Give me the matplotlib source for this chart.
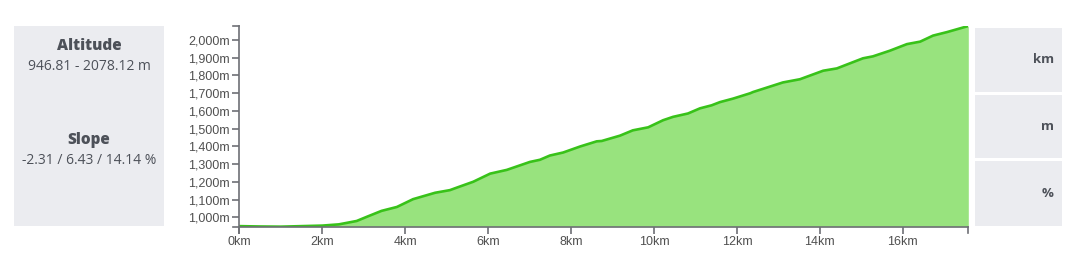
import matplotlib
matplotlib.use("Agg")
import matplotlib.pyplot as plt
from matplotlib.patches import Rectangle
from matplotlib.ticker import FuncFormatter

# distance (km) and altitude (m) read from the profile
dist_km = [0.0, 0.5, 1.0, 1.5, 2.0, 2.4, 2.83, 3.1, 3.43, 3.80, 4.19, 4.72, 5.08, 5.28, 5.64,
           6.05, 6.45, 7.01, 7.25, 7.49, 7.81, 8.22, 8.62, 8.74, 9.18, 9.49, 9.86,
           10.22, 10.46, 10.82, 11.11, 11.39, 11.59, 11.91, 12.32, 12.39, 13.11, 13.52,
           14.08, 14.41, 14.73, 15.04, 15.28, 15.69, 16.10, 16.42, 16.73, 17.07, 17.58]
alt_m = [950, 948, 947, 950, 953, 960, 979, 1005, 1036, 1058, 1102, 1138, 1153, 1170, 1200,
         1246, 1267, 1312, 1324, 1348, 1365, 1399, 1428, 1430, 1460, 1490, 1507,
         1547, 1566, 1585, 1614, 1631, 1649, 1669, 1699, 1706, 1760, 1778,
         1826, 1839, 1868, 1896, 1907, 1939, 1976, 1990, 2024, 2044, 2078]

x_ticks = [0, 2, 4, 6, 8, 10, 12, 14, 16]
y_ticks = [1000, 1100, 1200, 1300, 1400, 1500, 1600, 1700, 1800, 1900, 2000]
alt_min, alt_max = 946.81, 2078.12
panel_titles = ["Altitude", "Slope"]
panel_values = ["946.81 - 2078.12 m", "-2.31 / 6.43 / 14.14 %"]
unit_labels = ["km", "m", "%"]

W, H = 1078, 266
fig = plt.figure(figsize=(W / 100, H / 100), dpi=100)
fig.patch.set_facecolor("white")

ax_left, ax_right, ax_bot, ax_top = 239.3, 968.3, 226.7, 26
ax = fig.add_axes([ax_left / W, (H - ax_bot) / H, (ax_right - ax_left) / W, (ax_bot - ax_top) / H])

line_c = "#38c219"
fill_c = "#98e37e"
ax.fill_between(dist_km, alt_m, alt_min, color=fill_c, lw=0)
ax.plot(dist_km, alt_m, color=line_c, lw=1.9, solid_capstyle="round")
ax.set_xlim(0, dist_km[-1])
ax.set_ylim(alt_min, alt_max)

spine_c = "#6e7075"
for s in ["top", "right"]:
    ax.spines[s].set_visible(False)
for s in ["left", "bottom"]:
    ax.spines[s].set_color(spine_c)
    ax.spines[s].set_linewidth(1.2)
ax.set_xticks(x_ticks)
ax.set_yticks(y_ticks)
ax.xaxis.set_major_formatter(FuncFormatter(lambda v, p: f"{int(v)}km"))
ax.yaxis.set_major_formatter(FuncFormatter(lambda v, p: f"{int(v):,}m"))
ax.tick_params(axis="both", colors=spine_c, length=5, width=1.2, labelcolor="#505050",
               labelsize=9)
ax.tick_params(axis="x", pad=2)
ax.tick_params(axis="y", pad=2)
for lab in ax.get_xticklabels() + ax.get_yticklabels():
    lab.set_fontfamily("Liberation Sans")

# outer ticks at the domain ends
trans = ax.transAxes
dx = 6 / (ax_right - ax_left)
dy = 6 / (ax_bot - ax_top)
ax.plot([0, -dx], [1, 1], transform=trans, color=spine_c, lw=1.2, clip_on=False)
ax.plot([0, -dx], [0, 0], transform=trans, color=spine_c, lw=1.2, clip_on=False)
ax.plot([1, 1], [0, -dy], transform=trans, color=spine_c, lw=1.2, clip_on=False)
ax.plot([0, 0], [0, -dy], transform=trans, color=spine_c, lw=1.2, clip_on=False)

# side panels
box_c = "#ebecf0"
text_c = "#4d5159"

def px_rect(x0, y0, x1, y1):
    fig.patches.append(Rectangle((x0 / W, 1 - y1 / H), (x1 - x0) / W, (y1 - y0) / H,
                                 transform=fig.transFigure, facecolor=box_c, edgecolor="none",
                                 zorder=0))

px_rect(14, 26, 164, 226)
for i, (t, v) in enumerate(zip(panel_titles, panel_values)):
    yt = [46, 140][i]
    fig.text(89 / W, 1 - yt / H, t, ha="center", va="center", fontsize=11, fontweight="heavy",
             color=text_c, family="Open Sans")
    fig.text(89 / W, 1 - (yt + 20) / H, v, ha="center", va="center", fontsize=10,
             color=text_c, family="Open Sans")

boxes = [(28, 91.7), (95, 157.7), (161, 225.7)]
for (y0, y1), u in zip(boxes, unit_labels):
    px_rect(974.7, y0, 1061.7, y1)
    fig.text(1054 / W, 1 - ((y0 + y1) / 2) / H, u, ha="right", va="center", fontsize=9.5,
             fontweight="bold", color=text_c, family="Open Sans")

fig.savefig("out.png", dpi=100, facecolor="white")
